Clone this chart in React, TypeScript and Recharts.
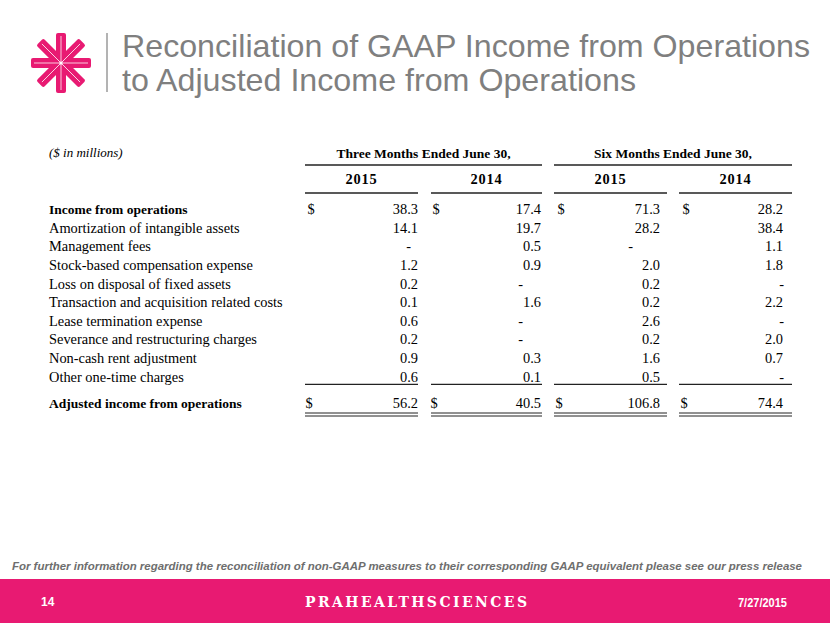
import React from "react";
import { Surface, Layer, Rectangle, Text } from "recharts";

// table content
const rowLabels = [
  "Income from operations",
  "Amortization of intangible assets",
  "Management fees",
  "Stock-based compensation expense",
  "Loss on disposal of fixed assets",
  "Transaction and acquisition related costs",
  "Lease termination expense",
  "Severance and restructuring charges",
  "Non-cash rent adjustment",
  "Other one-time charges",
];
const threeMonths2015 = [38.3, 14.1, null, 1.2, 0.2, 0.1, 0.6, 0.2, 0.9, 0.6];
const threeMonths2014 = [17.4, 19.7, 0.5, 0.9, null, 1.6, null, null, 0.3, 0.1];
const sixMonths2015 = [71.3, 28.2, null, 2.0, 0.2, 0.2, 2.6, 0.2, 1.6, 0.5];
const sixMonths2014 = [28.2, 38.4, 1.1, 1.8, null, 2.2, null, 2.0, 0.7, null];
const totalLabel = "Adjusted income from operations";
const totals = [56.2, 40.5, 106.8, 74.4];
const periodLabels = ["Three Months Ended June 30,", "Six Months Ended June 30,"];
const yearLabels = ["2015", "2014", "2015", "2014"];

const columns = [threeMonths2015, threeMonths2014, sixMonths2015, sixMonths2014];

// layout
const PINK = "#E81A72";
const SERIF = "'Liberation Serif', 'Times New Roman', serif";
const SANS = "'Liberation Sans', Arial, sans-serif";
const NARROW = "'Liberation Sans Narrow', 'Liberation Sans', Arial, sans-serif";
const colLeft = [305, 431, 554, 679];
const colRight = [418, 542, 667, 792];
const valueRight = [418, 541, 660, 783];
const dollarX = [311, 436, 561, 686];
const dashRight = [411, 523, 633, 784];
const labelX = 49;
const rowTop = 209;
const rowStep = 18.6;
const totalY = 403;

const fmt = (v: number | null) => (v === null ? "-" : v.toFixed(1));

function Logo({ cx, cy }: { cx: number; cy: number }) {
  return (
    <Layer transform={`translate(${cx},${cy})`}>
      {[0, 45, 90, 135].map((a) => (
        <Layer key={a} transform={`rotate(${a})`}>
          <Rectangle x={-30} y={-5} width={60} height={10} radius={2} fill={PINK} />
        </Layer>
      ))}
      {[0, 45, 90, 135].map((a) => (
        <Layer key={`w${a}`} transform={`rotate(${a})`}>
          <line x1={-27} y1={0} x2={27} y2={0} stroke="#fff" strokeWidth={0.9} strokeOpacity={0.85} />
        </Layer>
      ))}
      <circle r={1.6} fill="#fff" />
    </Layer>
  );
}

function Cell({ x, y, value, bold }: { x: number; y: number; value: string; bold?: boolean }) {
  return (
    <Text
      x={x}
      y={y}
      textAnchor="end"
      verticalAnchor="middle"
      fontFamily={SERIF}
      fontSize={14.4}
      fontWeight={bold ? "bold" : "normal"}
      fill="#000"
    >
      {value}
    </Text>
  );
}

export default function App() {
  const lastY = rowTop + rowStep * (rowLabels.length - 1);
  return (
    <div style={{ position: "absolute", left: 0, top: 0, width: 830, height: 623, background: "#fff" }}>
      <Surface width={830} height={623} viewBox={{ x: 0, y: 0, width: 830, height: 623 }}>
        <Logo cx={61} cy={63} />
        <line x1={107} y1={33} x2={107} y2={92} stroke="#9a9a9a" strokeWidth={1.5} />
        <text x={122} y={57} fontFamily={SANS} fontSize={32} fill="#7f7f7f" textLength={688} lengthAdjust="spacingAndGlyphs">
          Reconciliation of GAAP Income from Operations
        </text>
        <text x={122} y={91} fontFamily={SANS} fontSize={32} fill="#7f7f7f" textLength={514} lengthAdjust="spacingAndGlyphs">
          to Adjusted Income from Operations
        </text>

        {/* header */}
        <Text x={labelX} y={152} verticalAnchor="middle" fontFamily={SERIF} fontSize={13} fontStyle="italic" fill="#000">
          ($ in millions)
        </Text>
        {periodLabels.map((p, i) => {
          const l = colLeft[i * 2];
          const r = colRight[i * 2 + 1];
          return (
            <Layer key={p}>
              <Text x={(l + r) / 2} y={153} textAnchor="middle" verticalAnchor="middle" fontFamily={SERIF} fontSize={13.5} fontWeight="bold" fill="#000">
                {p}
              </Text>
              <line x1={l} y1={165} x2={r} y2={165} stroke="#222" strokeWidth={1.3} />
            </Layer>
          );
        })}
        {yearLabels.map((yl, i) => (
          <Layer key={i}>
            <Text x={(colLeft[i] + colRight[i]) / 2} y={179} textAnchor="middle" verticalAnchor="middle" fontFamily={SERIF} fontSize={14.4} fontWeight="bold" letterSpacing={0.8} fill="#000">
              {yl}
            </Text>
            <line x1={colLeft[i]} y1={193} x2={colRight[i]} y2={193} stroke="#222" strokeWidth={1.3} />
          </Layer>
        ))}

        {/* rows */}
        {rowLabels.map((label, r) => {
          const y = rowTop + rowStep * r;
          const bold = r === 0;
          return (
            <Layer key={label}>
              <Text x={labelX} y={y} verticalAnchor="middle" fontFamily={SERIF} fontSize={bold ? 13.5 : 14.4} fontWeight={bold ? "bold" : "normal"} fill="#000">
                {label}
              </Text>
              {columns.map((col, c) => (
                <Layer key={c}>
                  {r === 0 && (
                    <Text x={dollarX[c]} y={y} verticalAnchor="middle" textAnchor="middle" fontFamily={SERIF} fontSize={14.4} fill="#000">
                      $
                    </Text>
                  )}
                  <Cell x={col[r] === null ? dashRight[c] : valueRight[c]} y={y} value={fmt(col[r])} />
                </Layer>
              ))}
            </Layer>
          );
        })}

        {/* subtotal rules */}
        {colLeft.map((l, i) => (
          <line key={i} x1={l} y1={lastY + 8} x2={colRight[i]} y2={lastY + 8} stroke="#222" strokeWidth={1.3} />
        ))}

        {/* total */}
        <Text x={labelX} y={totalY} verticalAnchor="middle" fontFamily={SERIF} fontSize={13.5} fontWeight="bold" fill="#000">
          {totalLabel}
        </Text>
        {totals.map((t, c) => (
          <Layer key={c}>
            <Text x={dollarX[c] - 2} y={totalY} verticalAnchor="middle" textAnchor="middle" fontFamily={SERIF} fontSize={14.4} fill="#000">
              $
            </Text>
            <Cell x={valueRight[c]} y={totalY} value={fmt(t)} />
            <line x1={colLeft[c]} y1={413} x2={colRight[c]} y2={413} stroke="#222" strokeWidth={1} />
            <line x1={colLeft[c]} y1={416} x2={colRight[c]} y2={416} stroke="#222" strokeWidth={1} />
          </Layer>
        ))}

        {/* footer */}
        <text x={12} y={570} fontFamily={NARROW} fontSize={11.2} fontWeight="bold" fontStyle="italic" fill="#6e6e6e" textLength={790} lengthAdjust="spacingAndGlyphs">
          For further information regarding the reconciliation of non-GAAP measures to their corresponding GAAP equivalent please see our press release
        </text>
        <Rectangle x={0} y={579} width={830} height={44} fill={PINK} />
        <text x={41} y={606} fontFamily={SANS} fontSize={12} fontWeight="bold" fill="#fff">
          14
        </text>
        <text x={305} y={607} fontFamily="'DejaVu Serif', serif" fontSize={14} fontWeight="bold" fill="#fff" textLength={222} lengthAdjust="spacing">
          PRAHEALTHSCIENCES
        </text>
        <text x={738} y={607} fontFamily={NARROW} fontSize={13} fontWeight="bold" fill="#fff" textLength={49} lengthAdjust="spacingAndGlyphs">
          7/27/2015
        </text>
      </Surface>
    </div>
  );
}
